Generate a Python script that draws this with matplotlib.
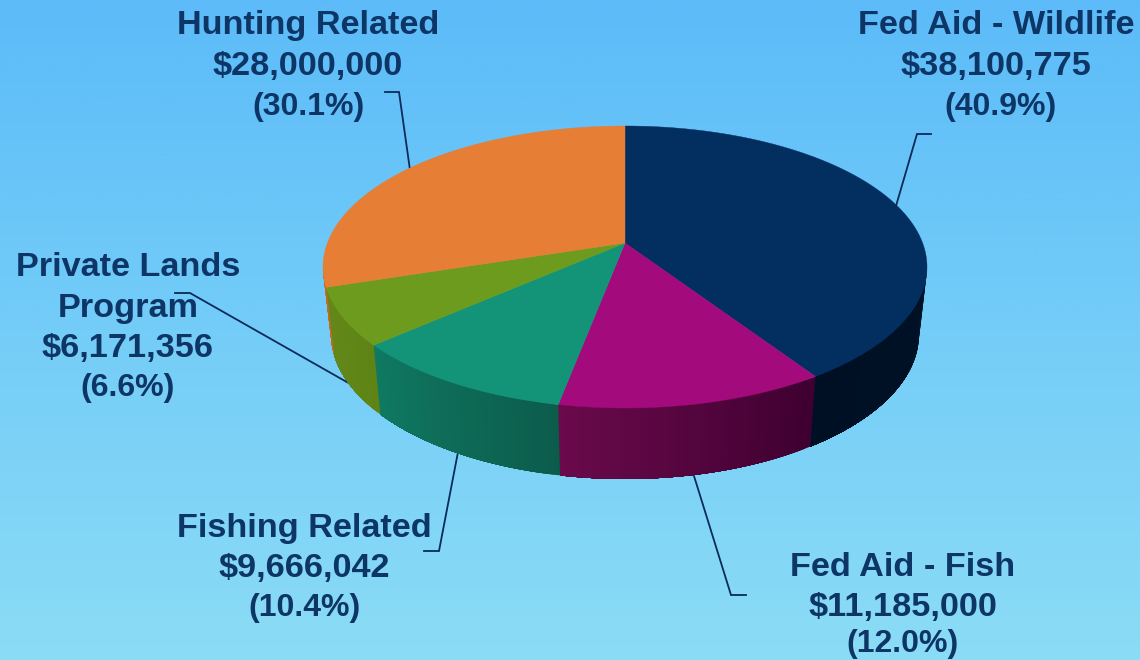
import numpy as np
import matplotlib
matplotlib.use("Agg")
import matplotlib.pyplot as plt
from matplotlib.colors import LinearSegmentedColormap, to_rgb

plt.rcParams["font.family"] = ["Liberation Sans", "DejaVu Sans"]

# chart data
names = ["Fed Aid - Wildlife", "Fed Aid - Fish", "Fishing Related", "Private Lands Program", "Hunting Related"]
amounts = [38100775, 11185000, 9666042, 6171356, 28000000]
amount_labels = ["$38,100,775", "$11,185,000", "$9,666,042", "$6,171,356", "$28,000,000"]
pct_labels = ["(40.9%)", "(12.0%)", "(10.4%)", "(6.6%)", "(30.1%)"]

top_colors = ["#032e60", "#a30a7b", "#139377", "#6c9b1e", "#e67e35"]
side_left = ["#001024", "#6b0a4c", "#0f7a62", "#64881a", "#c46a22"]
side_right = ["#001226", "#3e0030", "#0c5c4c", "#5f8416", "#c46a22"]
text_color = "#0d3565"
line_color = "#0b2a5a"

# pie geometry in picture pixels
cx, cy, rx, ry = 625, 267, 302, 141
apex_x, apex_y = 625, 243
bx, by, brx, bry = 625, 334, 294, 145
squash = 0.45

fig = plt.figure(figsize=(11.4, 6.6), dpi=100)
ax = fig.add_axes([0, 0, 1, 1])
ax.set_xlim(0, 1140)
ax.set_ylim(660, 0)
ax.axis("off")

# background gradient
bg = LinearSegmentedColormap.from_list("bg", ["#5cbbf8", "#74cdf8", "#8bdcf5"])
ax.imshow(np.linspace(0, 1, 256).reshape(-1, 1), cmap=bg, extent=[0, 1140, 660, 0], aspect="auto", zorder=0)


def edge_param(t):
    # ray from the apex to the rim, returns ellipse angle (0 = right, pi/2 = bottom)
    dx, dy = np.sin(t), -squash * np.cos(t)
    ox, oy = (apex_x - cx) / rx, (apex_y - cy) / ry
    ux, uy = dx / rx, dy / ry
    a = ux**2 + uy**2
    b = 2 * (ox * ux + oy * uy)
    c = ox**2 + oy**2 - 1
    k = (-b + np.sqrt(b**2 - 4 * a * c)) / (2 * a)
    return np.arctan2(oy + k * uy, ox + k * ux)


fracs = np.array(amounts) / sum(amounts)
edges = np.concatenate([[0], np.cumsum(fracs)]) * 2 * np.pi
params = np.unwrap([edge_param(t) for t in edges])

# side wall, only the front half shows
for i in range(len(amounts)):
    s0, s1 = max(params[i], 0), min(params[i + 1], np.pi)
    if s1 <= s0:
        continue
    c_l, c_r = np.array(to_rgb(side_left[i])), np.array(to_rgb(side_right[i]))
    steps = np.linspace(s0, s1, 40)
    for a0 in steps[:-1]:
        # each strip runs on to the wedge end so no seams show, the next one paints over it
        arc = np.linspace(a0, s1, 40)
        xs = np.concatenate([cx + rx * np.cos(arc), bx + brx * np.cos(arc[::-1])])
        ys = np.concatenate([cy + ry * np.sin(arc), by + bry * np.sin(arc[::-1])])
        mix = (a0 - s0) / (s1 - s0)  # 0 at the right end of the wedge
        ax.fill(xs, ys, color=c_r * (1 - mix) + c_l * mix, lw=0, zorder=3)

# top face
for i in range(len(amounts)):
    arc = np.linspace(params[i], params[i + 1], 120)
    xs = np.concatenate([[apex_x], cx + rx * np.cos(arc)])
    ys = np.concatenate([[apex_y], cy + ry * np.sin(arc)])
    ax.fill(xs, ys, color=top_colors[i], lw=0.3, zorder=4)

# leader lines
leaders = [
    ([931, 917, 896], [134, 134, 206]),
    ([694, 731, 746], [476, 595, 595]),
    ([458, 439, 424], [452, 551, 551]),
    ([175, 190, 352], [293, 293, 385]),
    ([385, 399, 410], [92, 92, 170]),
]
for lx, ly in leaders:
    ax.plot(lx, ly, color=line_color, lw=1.3, zorder=2, solid_joinstyle="miter")

# labels, one text per line
label_lines = [
    [names[0], amount_labels[0], pct_labels[0]],
    [names[1], amount_labels[1], pct_labels[1]],
    [names[2], amount_labels[2], pct_labels[2]],
    ["Private Lands", "Program", amount_labels[3], pct_labels[3]],
    [names[4], amount_labels[4], pct_labels[4]],
]
label_x = [996, 903, 304, 128, 308]
pct_x = [1000, 903, 304, 128, 309]
label_y = [[34, 75, 115], [576, 616, 652], [537, 577, 616], [276, 317, 357, 396], [34, 75, 115]]
for lines, x, px, ys in zip(label_lines, label_x, pct_x, label_y):
    for line, y in zip(lines, ys):
        is_pct = line.startswith("(")
        ax.text(px if is_pct else x, y, line, ha="center", va="baseline",
                fontsize=23 if is_pct else 24.7, fontweight="bold", color=text_color, zorder=5)

fig.savefig("out.png", dpi=100)
